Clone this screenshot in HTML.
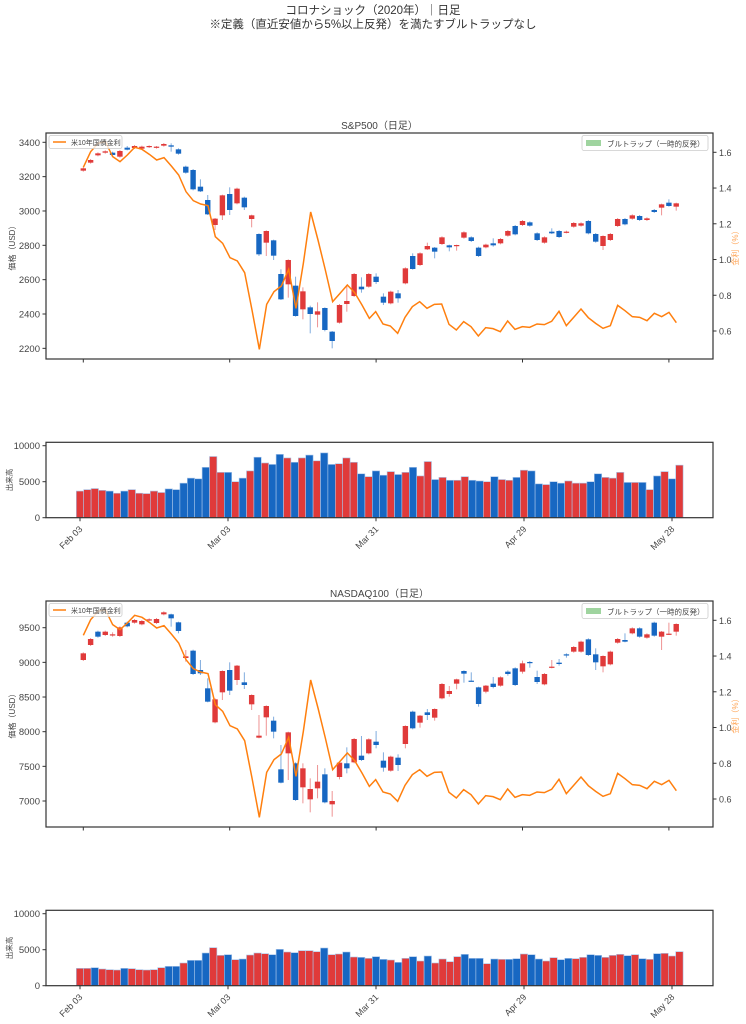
<!DOCTYPE html>
<html><head><meta charset="utf-8">
<style>
html,body{margin:0;padding:0;background:#fff;}
svg{display:block;font-family:"Liberation Sans","Noto Sans CJK JP",sans-serif;}
</style></head>
<body>
<svg id="s" width="746" height="1024" xmlns="http://www.w3.org/2000/svg">
<text x="373" y="14" text-anchor="middle" font-size="11.5" fill="#333">コロナショック（2020年）｜日足</text>
<text x="373" y="28" text-anchor="middle" font-size="11.5" fill="#333">※定義（直近安値から5%以上反発）を満たすブルトラップなし</text>
</svg>
<script>
var S=document.getElementById('s'),NS='http://www.w3.org/2000/svg',out='';
var RED='#e03a3a',BLUE='#1767c2',OR='#ff7f0e',TX='#444';
function X(i){return 83.3+7.32*i;}
function VX(i){return 80+7.4*i;}
// S&P candles: [top,bot,(wt,wb)] in zoom coords
var sp=[[175,182],[150,158],[130,136],[124,128],[128,135],[123,140],[113,119,108,121],[108,114],[110,116],[108,111,106,114],
[110,112,108,116],[102,107],[106,110,100,125],[118,131],[170,188],[180,238],[230,244,208,246],[270,313,255,315],[326,345,324,360],[256,316,254,330],
[252,300,232,315],[236,280],[263,292,260,300],[316,327,314,352],[372,433,370,438],[363,398,361,438],[391,437,389,450],[492,568,478,570],[450,523,448,563],[527,618,500,620],
[544,598,532,628],[592,612,587,670],[604,614,577,652],[594,660,592,664],[665,693,663,715],[585,638],[573,582,525,605],[492,558],[530,538,502,548],[492,530],
[500,516,490,522],[560,578,550,585],[545,580],[550,565,540,578],[475,520],[438,477,430,479],[430,465],[408,418,398,420],[413,425,411,445],[382,402],
[406,412,404,424],[405,407,404,422],[367,383],[382,393],[413,438],[404,412],[400,406,385,410],[387,400],[363,377],[348,373],
[333,345],[337,347],[370,390],[382,398],[365,370,355,372],[363,381],[365,367],[339,350],[340,347],[333,370],
[372,395],[378,408,376,420],[372,390],[327,348],[327,343],[316,326],[318,330],[325,330],[300,306],[283,293,281,316],
[278,288,268,290],[280,290,278,302]];
var nq=[[205,225],[162,180],[140,155],[140,150],[148,150,142,155],[127,153],[113,124],[105,113],[108,118],[103,105],
[102,114],[82,88],[88,100,86,125],[112,138,110,145],[214,219,195,230],[197,267],[255,265,225,270],[310,350,280,352],[343,412],[258,322,256,345],
[255,317,232,330],[242,285,240,300],[292,300,262,312],[330,358,328,375],[452,458,390,460],[363,397,361,452],[407,440,395,460],[553,593,480,595],[442,505,440,585],[535,645,532,648],
[550,607,535,655],[612,643,580,682],[590,610,540,640],[568,652,550,655],[648,658,618,695],[533,576,531,583],[535,550,487,565],[462,532],[512,525,453,528],[463,505],
[470,480,438,490],[527,548,502,560],[515,557],[518,540,508,558],[423,477,421,490],[380,430],[392,413,390,428],[382,390,372,405],[372,398,370,407],[297,340],
[318,327,303,335],[283,296,281,313],[258,266,256,293],[287,289,262,290],[307,357,305,365],[302,320,300,325],[296,306,276,310],[277,302],[260,267,256,272],[250,300],
[235,260,227,266],[231,233,228,248],[276,291,257,297],[267,298],[245,248,225,250],[233,237,222,242],[208,211,205,218],[186,200],[170,200],[163,210],
[208,232,190,255],[213,244,211,262],[200,238],[162,173],[165,170,145,172],[130,145],[130,155],[148,158],[113,152],[140,155,138,195],
[146,148,113,150],[117,140,115,152]];
var spc="rrrrbrbrrrrrbbbbbbrrbrbrbrbbrbrbrbbrrrbrbbrbrbrrbrbrrbbrbrrbrbbrbbrrrbbrrrbrbrbrbr";
var nqc="rrbrrrbrrrrrbbrbbbrrbrbrrrbbrbrrrbrrbrbrbbrbrbrbrrrrbbbrbrbbrbbrrbbrrbbrrrbrbrbrrr";
var spv=[3700,3900,4050,3800,3700,3400,3700,3900,3400,3350,3700,3500,4000,3900,4800,5500,5400,7000,8500,6300,6300,5000,5500,6500,8400,7600,7400,8800,8300,7700,8300,8700,7900,9000,7400,7500,8300,7700,6100,5700,6500,5900,6400,6000,6300,7000,5800,7800,5300,5600,5200,5200,5700,5200,5100,5000,5700,5300,5200,5600,6600,6500,4700,4600,5000,4800,5100,4800,4800,5000,6100,5600,5500,6300,4900,4900,4900,3900,5800,6400,5400,7300];
var nqt=[205,205,203,207,209,210,205,206,209,210,209,203,199,199,189,181,181,159,143,166,164,179,177,165,159,161,164,148,156,158,152,152,155,144,164,162,156,171,172,175,
170,178,180,187,175,170,183,168,189,177,185,170,163,175,175,191,177,178,178,176,162,164,177,183,173,179,175,176,172,164,166,172,166,163,167,164,176,178,161,160,168,155];
var rate1=[[250,172],[272,125],[294,100],[316,95],[338,140],[360,155],[382,135],[404,112],[426,118],[448,133],[470,150],[492,143],[514,168],[536,195],[558,245],[580,272],[602,282],[624,287],[646,380],[668,400],[690,443],[712,453],[734,488],[756,600],[778,718],[800,583],[822,545],[844,528],[866,478],[888,595],[910,460],[932,306],[954,390],[976,480],[998,575],[1020,550],[1042,525],[1064,548],[1086,585],[1108,625]];
var rate2=[[8,605],[30,642],[52,648],[74,670],[96,622],[118,590],[140,575],[162,595],[184,583],[206,582],[228,643],[250,660],[272,635],[294,650],[316,678],[338,653],[360,656],[382,665],[404,633],[426,658],[448,650],[470,652],[492,642],[514,644],[536,634],[558,604],[580,647],[602,622],[624,597],[646,623],[668,640],[690,655],[712,647],[734,586],[756,602],[778,620],[800,622],[822,632],[844,610],[866,620],[888,607],[910,638]];
function col(c){return c=='r'?RED:BLUE;}
function txt(x,y,s,o){out+='<text x="'+x+'" y="'+y+'" '+(o||'')+'>'+s+'</text>';}
function line(x1,y1,x2,y2,st){out+='<line x1="'+x1+'" y1="'+y1+'" x2="'+x2+'" y2="'+y2+'" stroke="'+(st||'#333')+'" stroke-width="1"/>';}
var dates=['Feb 03','Mar 03','Mar 31','Apr 29','May 28'];
function pricePanel(off,data,cols,ticks,title,yfn,origin){
  var top=133+off,bot=359+off;
  // candles
  data.forEach(function(d,i){
    var c=col(cols[i]),x=X(i);
    var t=origin+d[0]/3,b=origin+d[1]/3;
    var wt=origin+(d.length>2?d[2]:d[0]-3)/3,wb=origin+(d.length>2?d[3]:d[1]+3)/3;
    out+='<line x1="'+x+'" y1="'+wt+'" x2="'+x+'" y2="'+wb+'" stroke="'+c+'" stroke-opacity="0.55" stroke-width="1"/>';
    out+='<rect x="'+(x-2.7)+'" y="'+t+'" width="5.4" height="'+Math.max(b-t,1.2)+'" fill="'+c+'"/>';
  });
  // rate line
  var pts=rate1.map(function(p){return (p[0]/3)+','+(110+off+p[1]/3);}).concat(rate2.map(function(p){return (373+p[0]/3)+','+(110+off+p[1]/3);}));
  out+='<polyline points="'+pts.join(' ')+'" fill="none" stroke="'+OR+'" stroke-width="1.5"/>';
  out+='<rect x="46" y="'+top+'" width="667" height="'+(bot-top)+'" fill="none" stroke="#333" stroke-width="1.2"/>';
  ticks.forEach(function(t){var y=yfn(t);line(42.5,y,46,y);txt(40,y+3.5,t,'font-size="9.5" fill="'+TX+'" text-anchor="end"');});
  [1.6,1.4,1.2,1.0,0.8,0.6].forEach(function(v){var y=152.3+off+(1.6-v)*178.7;line(713,y,716.5,y);txt(719,y+3.5,v.toFixed(1),'font-size="9" fill="'+TX+'"');});
  for(var k=0;k<5;k++){var x=X(20*k);line(x,bot,x,bot+3.5);}
  txt(379.5,top-4,title,'font-size="10" fill="'+TX+'" text-anchor="middle"');
  txt(15,(top+bot)/2,'価格（USD）','font-size="8" fill="'+TX+'" text-anchor="middle" transform="rotate(-90 15 '+(top+bot)/2+')"');
  txt(738,(top+bot)/2,'金利（%）','font-size="8" fill="'+OR+'" fill-opacity="0.7" text-anchor="middle" transform="rotate(-90 738 '+(top+bot)/2+')"');
  out+='<rect x="49" y="'+(top+2.5)+'" width="73" height="13" fill="#fff" fill-opacity="0.8" stroke="#ccc" stroke-width="0.8" rx="2"/>';
  line(53,top+9,66,top+9,OR);out+='<line x1="53" y1="'+(top+9)+'" x2="66" y2="'+(top+9)+'" stroke="'+OR+'" stroke-width="1.5"/>';
  txt(71,top+12,'米10年国債金利','font-size="7" fill="'+TX+'"');
  out+='<rect x="582" y="'+(top+2.5)+'" width="126" height="15" fill="#fff" fill-opacity="0.8" stroke="#ccc" stroke-width="0.8" rx="2"/>';
  out+='<rect x="586" y="'+(top+7)+'" width="15" height="6" fill="#9fd49f"/>';
  txt(607,top+13.5,'ブルトラップ（一時的反発）','font-size="7.5" fill="'+TX+'"');
}
function volPanel(top,bot,cols,ys){
  cols.split('').forEach(function(c,i){var x=VX(i)-3.7,y=ys[i];
    out+='<rect x="'+x+'" y="'+y+'" width="7.4" height="'+(bot-y)+'" fill="'+col(c)+'" stroke="#a9c6ea" stroke-width="0.6"/>';});
  out+='<rect x="46" y="'+top+'" width="667" height="'+(bot-top)+'" fill="none" stroke="#333" stroke-width="1.2"/>';
  var z=bot,ten=top+3.4;
  [[0,z],[5000,(z+ten)/2],[10000,ten]].forEach(function(a){line(42.5,a[1],46,a[1]);txt(40,a[1]+3.5,a[0],'font-size="9.5" fill="'+TX+'" text-anchor="end"');});
  for(var k=0;k<5;k++){var x=VX(20*k);line(x,bot,x,bot+3.5);
    txt(x+3,bot+12,dates[k],'font-size="9" fill="'+TX+'" text-anchor="end" transform="rotate(-45 '+(x+3)+' '+(bot+12)+')"');}
  txt(12,(top+bot)/2,'出来高','font-size="7.5" fill="'+TX+'" text-anchor="middle" transform="rotate(-90 12 '+(top+bot)/2+')"');
}
pricePanel(0,sp,spc,[3400,3200,3000,2800,2600,2400,2200],'S&amp;P500（日足）',function(p){return 142.3+(3400-p)*0.1717;},110);
pricePanel(468,nq,nqc,[9500,9000,8500,8000,7500,7000],'NASDAQ100（日足）',function(p){return 627.7+(9500-p)*0.06932;},585);
volPanel(442.3,517.7,spc,spv.map(function(v){return 517.7-v*0.0072;}));
volPanel(910.3,985.7,nqc,nqt.map(function(t){return 900+t/3;}));
S.insertAdjacentHTML('beforeend',out);
</script>
</body></html>
